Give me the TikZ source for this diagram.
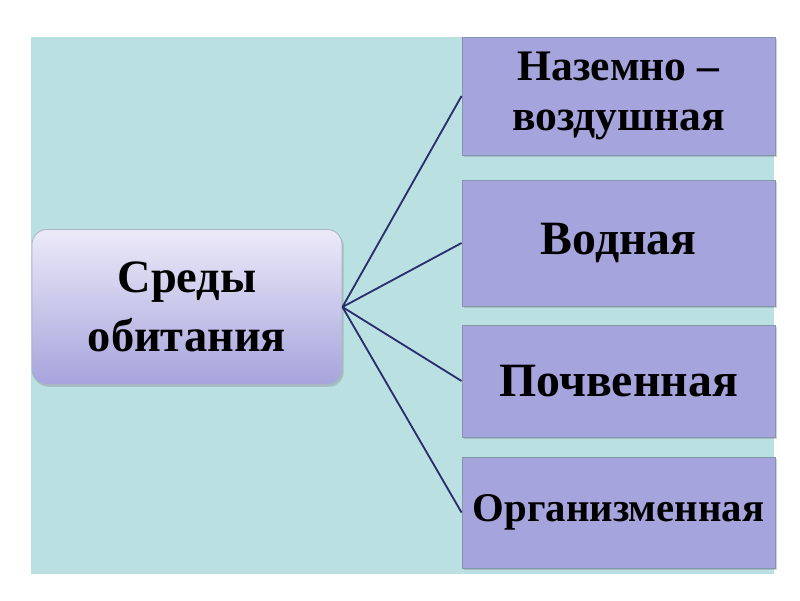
\documentclass[tikz,border=0pt]{standalone}
\usepackage{fontspec}
\setmainfont{Liberation Serif}
\usepackage{tikz}
\usetikzlibrary{positioning, shadows}
\definecolor{myteal}{RGB}{187, 224, 226}
\definecolor{myviolet}{RGB}{166, 164, 220}
\definecolor{mylight}{RGB}{236, 234, 248}
\definecolor{myedge}{RGB}{130, 152, 170}
\definecolor{mynavy}{RGB}{40, 46, 110}

\begin{document}
\begin{tikzpicture}[
    x=0.025cm, y=-0.025cm,
    % --- stili dei nodi ---
    habitat/.style={rectangle, draw=myedge, line width=0.6pt, fill=myviolet,
        minimum width=7.825cm, align=center,
        drop shadow={shadow xshift=1.2pt, shadow yshift=-1.6pt, opacity=0.35}},
    root/.style={rectangle, rounded corners=0.375cm, draw=myedge!70, line width=0.6pt,
        top color=mylight, bottom color=myviolet, minimum width=7.75cm,
        minimum height=3.875cm, align=center,
        drop shadow={shadow xshift=1.2pt, shadow yshift=-1.6pt, opacity=0.35}},
    link/.style={draw=mynavy, line width=1.3pt}
]

% 1. Bounding box e sfondo
\useasboundingbox (0,0) rectangle (800,600);
\fill[white] (0,0) rectangle (800,600);
\fill[myteal] (31,37) rectangle (774,574);

% 2. Nodo centrale
\node (sredy) [root, font=\bfseries\fontsize{33}{42}\selectfont] at (187,307)
    {Среды\\ обитания};

% 3. Le quattro sfere
\node (air) [habitat, minimum height=2.95cm,
    font=\bfseries\fontsize{31}{36}\selectfont] at (618.5,96)
    {Наземно –\\ воздушная};
\node (water) [habitat, minimum height=3.15cm,
    font=\bfseries\fontsize{34}{40}\selectfont] at (618.5,243) {Водная};
\node (soil) [habitat, minimum height=2.8cm,
    font=\bfseries\fontsize{34}{40}\selectfont] at (618.5,381) {Почвенная};
\node (organism) [habitat, minimum height=2.775cm,
    font=\bfseries\fontsize{29}{34}\selectfont] at (618.5,512.5) {Организменная};

% 4. Linee dal nodo centrale
\draw[link] (sredy.east) -- (air.west);
\draw[link] (sredy.east) -- (water.west);
\draw[link] (sredy.east) -- (soil.west);
\draw[link] (sredy.east) -- (organism.west);
\end{tikzpicture}
\end{document}
